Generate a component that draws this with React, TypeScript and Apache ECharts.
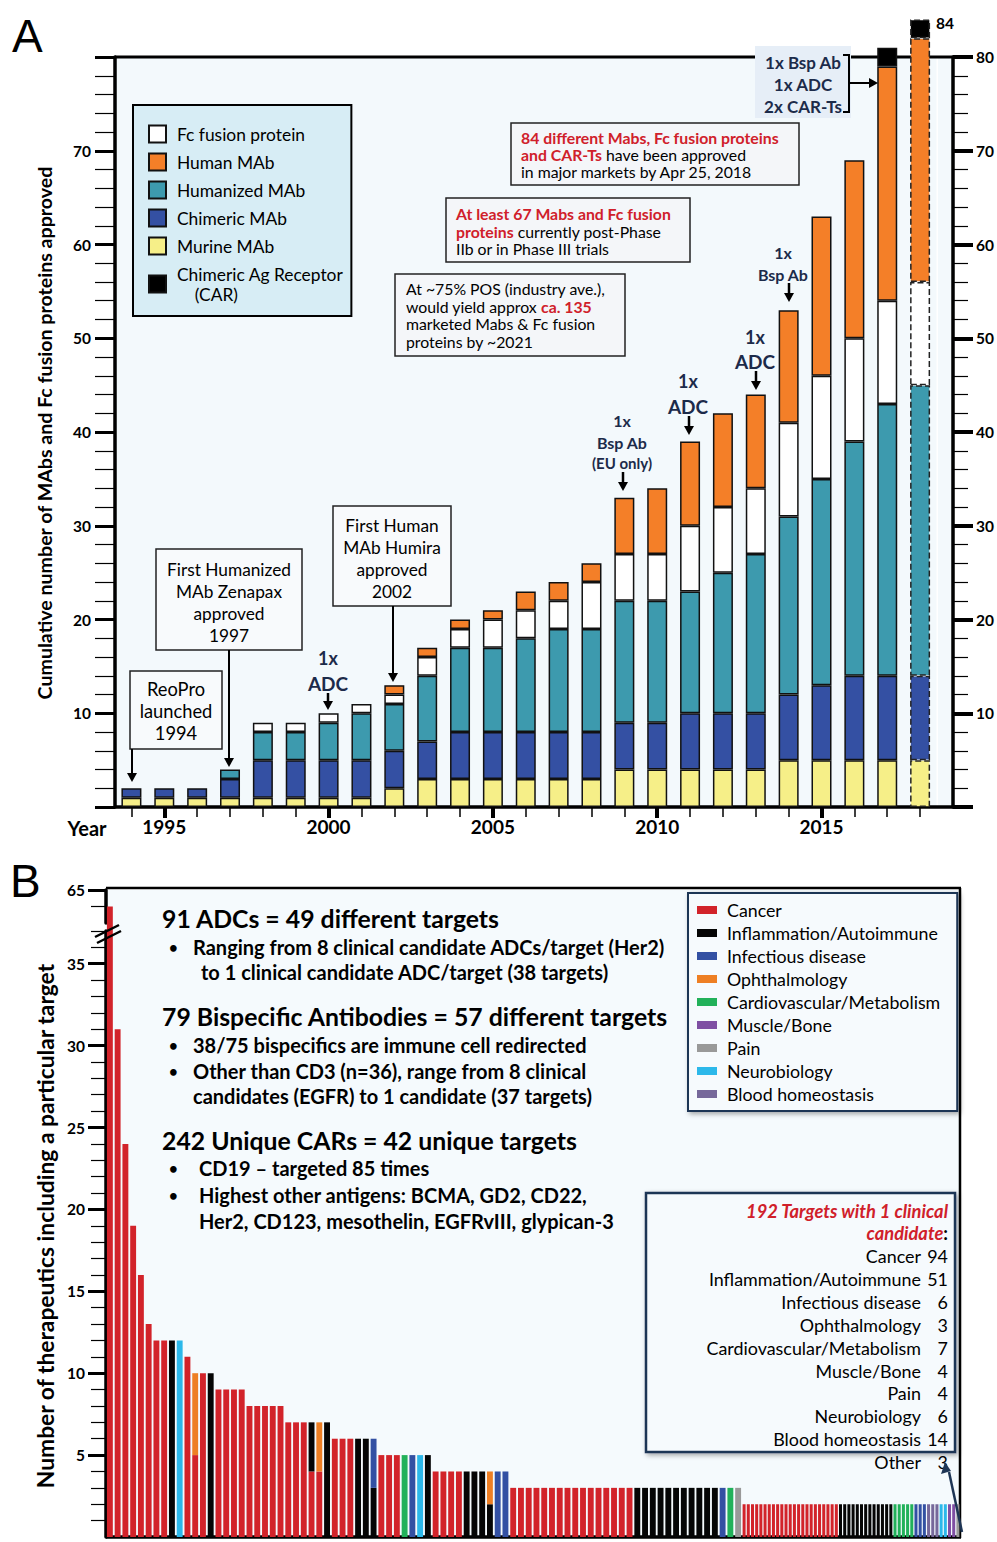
import React, { useEffect, useRef } from 'react';
import * as echarts from 'echarts';

const FONT = 'Lato, "Open Sans", "DejaVu Sans", sans-serif';
const NAVY = '#1c2b4a';
const RED = '#d0202a';

// ---------- Panel A data ----------
const years = ['1994','1995','1996','1997','1998','1999','2000','2001','2002','2003','2004','2005','2006','2007','2008','2009','2010','2011','2012','2013','2014','2015','2016','2017','2018'];
const murine    = [1,1,1,1,1,1,1,1,2,3,3,3,3,3,3,4,4,4,4,4,5,5,5,5,5];
const chimeric  = [1,1,1,2,4,4,4,4,4,4,5,5,5,5,5,5,5,6,6,6,7,8,9,9,9];
const humanized = [0,0,0,1,3,3,4,5,5,7,9,9,10,11,11,13,13,13,15,17,19,22,25,29,31];
const fcFusion  = [0,0,0,0,1,1,1,1,1,2,2,3,3,3,5,5,5,7,7,7,10,11,11,11,11];
const human     = [0,0,0,0,0,0,0,0,1,1,1,1,2,2,2,6,7,9,10,10,12,17,19,25,26];
const carT      = [0,0,0,0,0,0,0,0,0,0,0,0,0,0,0,0,0,0,0,0,0,0,0,2,2];
const projectedYear = '2018';
const leftTickLabelsA = [10,20,30,40,50,60,70];
const rightTickLabelsA = [10,20,30,40,50,60,70,80];

// ---------- Panel B data ----------
const bCats = ['Cancer','Inflammation/Autoimmune','Infectious disease','Ophthalmology','Cardiovascular/Metabolism','Muscle/Bone','Pain','Neurobiology','Blood homeostasis'];
const bCodes = ['C','I','B','O','V','M','P','N','H'];
const bColors = ['#d2232a','#050505','#3350a3','#ee7f24','#22b15a','#7f4fa3','#999999','#2cb8ea','#76689a'];
const mainHeights = [64,31,24,19,16,13,12,12,12,12,11,10,10,10,9,9,9,9,8,8,8,8,8,7,7,7,7,7,7,6,6,6,6,6,6,5,5,5,5,5,5,5,4,4,4,4,4,4,4,4,4,4,3,3,3,3,3,3,3,3,3,3,3,3,3,3,3,3,3,3,3,3,3,3,3,3,3,3,3,3,3,3];
const mainAreas = 'CCCCCCCCINCCCICCCCCCCCCCCCCCICCCIIICCCVBNICCCCIIIIBBCCCCCCCCCCCCCCCCIIIIIIIIIIIBVP'.split('');
// [bar index, top-segment area, top-segment size]
const mainSplits: [number, string, number][] = [[11,'O',5],[26,'I',3],[27,'O',3],[34,'B',3],[49,'O',2]];
const tailHeights = [2,2,2,2,2,2,2,2,2,2,2,2,2,2,2,2,2,2,2,2,2,2,2,2,2,2,2,2,2,2,2,2,2,2,2,2,2,2,2,2,2,2,2,2,2,2,2,2,2,2,2,2];
const tailAreas = 'CCCCCCCCCCCCCCCCCCCCCCCIIIIIIIIIIIIIVVVVVBBBHHHNNMMP'.split('');
const majorTicksB = [5,10,15,20,25,30,35,65];
const minorTicksB = [1,2,3,4,6,7,8,9,11,12,13,14,16,17,18,19,21,22,23,24,26,27,28,29,31,32,33,34,36,37,64];
const insetLabels = ['Cancer','Inflammation/Autoimmune','Infectious disease','Ophthalmology','Cardiovascular/Metabolism','Muscle/Bone','Pain','Neurobiology','Blood homeostasis','Other'];
const insetCounts = ['94','51','6','3','7','4','4','6','14','3'];

function T(x: number, y: number, text: string, o: any = {}) {
  const align = o.align || 'left';
  return {
    type: 'text', x, y, z: 100, rotation: o.rotation || 0,
    style: {
      text, fontFamily: o.family || FONT, fontSize: o.size || 16,
      fontWeight: o.bold ? 'bold' : 'normal', fontStyle: o.italic ? 'italic' : 'normal',
      fill: o.color || '#000', align, textAlign: align,
      verticalAlign: 'middle', textVerticalAlign: 'middle', rich: o.rich,
    },
  };
}
function box(x: number, y: number, w: number, h: number, o: any = {}) {
  return {
    type: 'rect', z: 90, shape: { x, y, width: w, height: h },
    style: {
      fill: o.fill || '#f8fafc', stroke: o.stroke === undefined ? '#222' : o.stroke, lineWidth: o.lw || 1.5,
      shadowBlur: o.shadow ? 5 : 0, shadowColor: 'rgba(0,0,0,0.35)', shadowOffsetX: o.shadow ? 2 : 0, shadowOffsetY: o.shadow ? 2 : 0,
    },
  };
}
function arrowDown(x: number, y1: number, y2: number, color = '#000', w = 2) {
  return [
    { type: 'line', z: 100, shape: { x1: x, y1, x2: x, y2: y2 - 6 }, style: { stroke: color, lineWidth: w } },
    { type: 'polygon', z: 100, shape: { points: [[x - 5, y2 - 9], [x + 5, y2 - 9], [x, y2]] }, style: { fill: color } },
  ];
}
function line(x1: number, y1: number, x2: number, y2: number, w = 2, color = '#000', z = 100) {
  return { type: 'line', z, shape: { x1, y1, x2, y2 }, style: { stroke: color, lineWidth: w } };
}

function buildOption() {
  // ---- Panel A series ----
  const aDefs = [
    { name: 'Murine MAb', data: murine, color: '#f6ef88' },
    { name: 'Chimeric MAb', data: chimeric, color: '#3450a3' },
    { name: 'Humanized MAb', data: humanized, color: '#3d9aae' },
    { name: 'Fc fusion protein', data: fcFusion, color: '#ffffff' },
    { name: 'Human MAb', data: human, color: '#f47f28' },
    { name: 'Chimeric Ag Receptor\n    (CAR)', data: carT, color: '#000000' },
  ];
  const aSeries = aDefs.map((d, si) => ({
    type: 'bar', name: d.name, xAxisIndex: 0, yAxisIndex: 0, stack: 'a', barWidth: 20, clip: false,
    itemStyle: { color: d.color, borderColor: '#111', borderWidth: 1.5 },
    data: d.data.map((v, i) => {
      const item: any = { value: v > 0 ? v : '-' };
      if (years[i] === projectedYear) item.itemStyle = { borderType: 'dashed', borderColor: '#222' };
      if (si === aDefs.length - 1 && years[i] === projectedYear) {
        const total = murine[i] + chimeric[i] + humanized[i] + fcFusion[i] + human[i] + carT[i];
        item.label = { show: true, position: 'right', distance: 6, offset: [0, -6], formatter: String(total), fontFamily: FONT, fontWeight: 'bold', fontSize: 15.5, color: '#000' };
      }
      return item;
    }),
  }));

  // ---- Panel B series ----
  const splitMap: Record<number, [string, number]> = {};
  mainSplits.forEach(([i, c, v]) => { splitMap[i] = [c, v]; });
  const bSeries: any[] = [];
  bCodes.forEach((code, k) => {
    bSeries.push({
      type: 'bar', name: bCats[k], xAxisIndex: 2, yAxisIndex: 2, stack: 'b1', barCategoryGap: '24%',
      itemStyle: { color: bColors[k] },
      data: mainHeights.map((h, i) => {
        const sp = splitMap[i];
        const bottom = sp ? h - sp[1] : h;
        let v = 0;
        if (mainAreas[i] === code) v += bottom;
        if (sp && sp[0] === code) v += sp[1];
        return v > 0 ? v : '-';
      }),
    });
  });
  bCodes.forEach((code, k) => {
    bSeries.push({
      type: 'bar', name: bCats[k], xAxisIndex: 3, yAxisIndex: 4, stack: 'b2', barCategoryGap: '28%',
      itemStyle: { color: bColors[k] },
      data: tailHeights.map((h, i) => (tailAreas[i] === code ? h : '-')),
    });
  });

  const bBreaks = [{ start: 37, end: 63, gap: 0.5 }];
  const bY = { type: 'value', min: 0, max: 65, breaks: bBreaks, breakArea: { show: false }, splitLine: { show: false } };

  const graphics: any[] = [];
  // panel A extra background strip and frame lines
  graphics.push({ type: 'rect', z: 0, shape: { x: 938, y: 57, width: 17, height: 750 }, style: { fill: '#f3f9fc' } });
  graphics.push(line(115, 57, 955, 57, 3, '#000', 1));
  graphics.push(line(115, 807, 955, 807, 3.5, '#000', 1));
  // panel B frame
  graphics.push(line(106, 888, 961, 888, 2.5, '#000', 1));
  graphics.push(line(960, 888, 960, 1538, 2.5, '#000', 1));
  graphics.push(line(106, 1537, 961, 1537, 3.5, '#000', 1));
  // break marks
  graphics.push(line(95, 937, 119, 925, 2.5));
  graphics.push(line(97, 943, 121, 931, 2.5));

  // panel letters and titles
  graphics.push(T(12, 36, 'A', { size: 46, family: '"Liberation Sans", Arial, sans-serif' }));
  graphics.push(T(10, 881, 'B', { size: 46, family: '"Liberation Sans", Arial, sans-serif' }));
  graphics.push(T(44, 433, 'Cumulative number of MAbs and Fc fusion proteins approved', { size: 19.6, bold: true, align: 'center', rotation: Math.PI / 2 }));
  graphics.push(T(45, 1226, 'Number of therapeutics including a particular target', { size: 22.8, bold: true, align: 'center', rotation: Math.PI / 2 }));
  graphics.push(T(87, 828, 'Year', { size: 20, bold: true, align: 'center' }));

  // Panel A milestone boxes
  graphics.push(box(130, 671, 92, 78));
  ['ReoPro', 'launched', '1994'].forEach((s, i) => graphics.push(T(176, 689 + i * 22, s, { size: 18.3, align: 'center' })));
  graphics.push(...arrowDown(132, 749, 782));
  graphics.push(box(156, 549, 146, 101));
  ['First Humanized', 'MAb Zenapax', 'approved', '1997'].forEach((s, i) => graphics.push(T(229, 569 + i * 22.3, s, { size: 17.3, align: 'center' })));
  graphics.push(...arrowDown(229, 650, 767));
  graphics.push(box(333, 506, 118, 100));
  ['First Human', 'MAb Humira', 'approved', '2002'].forEach((s, i) => graphics.push(T(392, 525 + i * 22.3, s, { size: 17.3, align: 'center' })));
  graphics.push(...arrowDown(393, 606, 682));

  // navy event labels
  const ev = (x: number, ys: number[], lines: string[], sizes: number[], ax: number, a1: number, a2: number) => {
    lines.forEach((s, i) => graphics.push(T(x, ys[i], s, { size: sizes[i], bold: true, color: NAVY, align: 'center' })));
    graphics.push(...arrowDown(ax, a1, a2, '#000', 2.5));
  };
  ev(328, [658, 683], ['1x', 'ADC'], [18, 19], 328, 693, 710);
  ev(622, [420, 442, 463], ['1x', 'Bsp Ab', '(EU only)'], [16, 16, 15], 623, 472, 491);
  ev(688, [381, 406], ['1x', 'ADC'], [18, 19], 689, 416, 435);
  ev(755, [337, 361], ['1x', 'ADC'], [18, 19], 756, 371, 390);
  ev(783, [252, 274], ['1x', 'Bsp Ab'], [16, 16], 789, 283, 302);

  // bracket note near 2017
  graphics.push(box(755, 46, 96, 72, { fill: '#e6eef7', stroke: null }));
  ['1x Bsp Ab', '1x ADC', '2x CAR-Ts'].forEach((s, i) => graphics.push(T(803, 62 + i * 22, s, { size: 17, bold: true, color: NAVY, align: 'center' })));
  graphics.push({ type: 'polyline', z: 100, shape: { points: [[843, 55], [849, 55], [849, 112], [843, 112]] }, style: { stroke: '#000', lineWidth: 2, fill: null } });
  graphics.push(line(849, 83, 870, 83, 2));
  graphics.push({ type: 'polygon', z: 100, shape: { points: [[869, 78], [869, 88], [878, 83]] }, style: { fill: '#000' } });

  const rich = {
    r: { fill: RED, fontWeight: 'bold', fontSize: 15.8, fontFamily: FONT },
    k: { fill: '#000', fontWeight: 'normal', fontSize: 15.8, fontFamily: FONT },
  };
  graphics.push(box(511, 123, 288, 62, { fill: '#f4f6f9' }));
  graphics.push(T(521, 137, '{r|84 different Mabs, Fc fusion proteins}', { rich }));
  graphics.push(T(521, 154, '{r|and CAR-Ts}{k| have been approved}', { rich }));
  graphics.push(T(521, 171, '{k|in major markets by Apr 25, 2018}', { rich }));
  graphics.push(box(446, 198, 244, 64, { fill: '#f4f6f9' }));
  graphics.push(T(456, 213, '{r|At least 67 Mabs and Fc fusion}', { rich }));
  graphics.push(T(456, 231, '{r|proteins}{k| currently post-Phase}', { rich }));
  graphics.push(T(456, 248, '{k|IIb or in Phase III trials}', { rich }));
  graphics.push(box(395, 274, 230, 82, { fill: '#f4f6f9' }));
  graphics.push(T(406, 288, '{k|At ~75% POS (industry ave.),}', { rich }));
  graphics.push(T(406, 306, '{k|would yield approx }{r|ca. 135}', { rich }));
  graphics.push(T(406, 323, '{k|marketed Mabs & Fc fusion}', { rich }));
  graphics.push(T(406, 341, '{k|proteins by ~2021}', { rich }));

  // Panel B text blocks
  const H = { size: 24.8, bold: true };
  const Bu = { size: 20, bold: true };
  const Dot = { size: 15, bold: true };
  graphics.push(T(162, 918, '91 ADCs = 49 different targets', H));
  graphics.push(T(169, 947, '•', Dot));
  graphics.push(T(193, 947, 'Ranging from 8 clinical candidate ADCs/target (Her2)', Bu));
  graphics.push(T(201, 972, 'to 1 clinical candidate ADC/target (38 targets)', Bu));
  graphics.push(T(162, 1016, '79 Bispecific Antibodies = 57 different targets', H));
  graphics.push(T(169, 1045, '•', Dot));
  graphics.push(T(193, 1045, '38/75 bispecifics are immune cell redirected', Bu));
  graphics.push(T(169, 1071, '•', Dot));
  graphics.push(T(193, 1071, 'Other than CD3 (n=36), range from 8 clinical', Bu));
  graphics.push(T(193, 1096, 'candidates (EGFR) to 1 candidate (37 targets)', Bu));
  graphics.push(T(162, 1140, '242 Unique CARs = 42 unique targets', H));
  graphics.push(T(169, 1168, '•', Dot));
  graphics.push(T(199, 1168, 'CD19 – targeted 85 times', Bu));
  graphics.push(T(169, 1195, '•', Dot));
  graphics.push(T(199, 1195, 'Highest other antigens: BCMA, GD2, CD22,', Bu));
  graphics.push(T(199, 1221, 'Her2, CD123, mesothelin, EGFRvIII, glypican-3', Bu));

  // Panel B inset
  graphics.push(box(646, 1193, 309, 259, { fill: '#f6fafd', stroke: '#1e3555', lw: 2.5, shadow: true }));
  graphics.push(T(948, 1211, '192 Targets with 1 clinical', { size: 18.3, bold: true, italic: true, color: RED, align: 'right' }));
  graphics.push(T(948, 1233, '{r|candidate}{k|:}', { align: 'right', rich: {
    r: { fill: RED, fontWeight: 'bold', fontStyle: 'italic', fontSize: 18.3, fontFamily: FONT },
    k: { fill: '#000', fontWeight: 'bold', fontSize: 18.3, fontFamily: FONT },
  } }));
  insetLabels.forEach((s, i) => {
    const y = 1256 + i * 22.9;
    graphics.push(T(921, y, s, { size: 17.9, align: 'right' }));
    graphics.push(T(948, y, insetCounts[i], { size: 17.9, align: 'right' }));
  });
  graphics.push(line(962, 1532, 949, 1472, 2.5, '#1e3555'));
  graphics.push({ type: 'polygon', z: 100, shape: { points: [[941, 1474], [951, 1471], [945, 1462]] }, style: { fill: '#1e3555' } });

  return {
    animation: false,
    backgroundColor: '#ffffff',
    textStyle: { fontFamily: FONT },
    grid: [
      { left: 115, top: 57, width: 823.5, height: 750, show: true, backgroundColor: '#f3f9fc', borderWidth: 0 },
      { left: 106, top: 890, width: 636, height: 647, show: true, backgroundColor: '#f5fafd', borderWidth: 0 },
      { left: 742, top: 890, width: 218, height: 647, show: true, backgroundColor: '#f5fafd', borderWidth: 0 },
    ],
    legend: [
      {
        data: ['Fc fusion protein', 'Human MAb', 'Humanized MAb', 'Chimeric MAb', 'Murine MAb', 'Chimeric Ag Receptor\n    (CAR)'],
        orient: 'vertical', left: 133, top: 105, backgroundColor: '#d7edf5', borderColor: '#000', borderWidth: 2,
        padding: [19, 8, 12, 15], itemWidth: 17, itemHeight: 17, itemGap: 8, icon: 'rect', selectedMode: false,
        textStyle: { fontFamily: FONT, fontSize: 17.4, color: '#000', padding: [0, 0, 0, 6], lineHeight: 20 },
      },
      {
        data: bCats, orient: 'vertical', left: 688, top: 893, backgroundColor: '#f6fafd', borderColor: '#1e3555', borderWidth: 2,
        shadowBlur: 5, shadowColor: 'rgba(0,0,0,0.35)', shadowOffsetX: 2, shadowOffsetY: 2,
        padding: [8, 17, 8, 9], itemWidth: 20, itemHeight: 8, itemGap: 5, icon: 'rect', selectedMode: false,
        textStyle: { fontFamily: FONT, fontSize: 17.8, color: '#000', lineHeight: 18, padding: [0, 0, 0, 5] },
      },
    ],
    xAxis: [
      {
        gridIndex: 0, type: 'category', data: years, position: 'bottom',
        axisLine: { show: false }, splitLine: { show: false },
        axisTick: { show: true, alignWithLabel: true, interval: 0, length: 10, lineStyle: { color: '#000', width: 1.5 } },
        axisLabel: { interval: (_i: number, v: string) => Number(v) % 5 === 0, fontFamily: FONT, fontWeight: 'bold', fontSize: 19, color: '#000', margin: 10 },
      },
      {
        gridIndex: 0, type: 'category', data: years, position: 'bottom',
        axisLine: { show: false }, splitLine: { show: false },
        axisTick: { show: true, alignWithLabel: true, interval: (_i: number, v: string) => Number(v) % 5 === 0, length: 11, lineStyle: { color: '#000', width: 4 } },
        axisLabel: { show: false },
      },
      {
        gridIndex: 1, type: 'category', data: mainHeights.map((_, i) => String(i + 1)),
        axisLine: { show: false }, axisTick: { show: false }, axisLabel: { show: false },
      },
      {
        gridIndex: 2, type: 'category', data: tailHeights.map((_, i) => String(i + 1)),
        axisLine: { show: false }, axisTick: { show: false }, axisLabel: { show: false },
      },
    ],
    yAxis: [
      {
        gridIndex: 0, type: 'value', min: 0, max: 80, interval: 10, position: 'left',
        axisLine: { show: true, lineStyle: { color: '#000', width: 3.5 } }, splitLine: { show: false },
        axisTick: { show: true, length: 20, lineStyle: { color: '#000', width: 3 } },
        minorTick: { show: true, splitNumber: 5, length: 20, lineStyle: { color: '#000', width: 1.2 } },
        axisLabel: { customValues: leftTickLabelsA, fontFamily: FONT, fontWeight: 'bold', fontSize: 15.5, color: '#000', margin: 24 },
      },
      {
        gridIndex: 0, type: 'value', min: 0, max: 80, interval: 10, position: 'right', offset: 16.5,
        axisLine: { show: true, lineStyle: { color: '#000', width: 3.5 } }, splitLine: { show: false },
        axisTick: { show: true, length: 20, lineStyle: { color: '#000', width: 4 } },
        minorTick: { show: true, splitNumber: 5, length: 15, lineStyle: { color: '#000', width: 1.2 } },
        axisLabel: { customValues: rightTickLabelsA, fontFamily: FONT, fontWeight: 'bold', fontSize: 15.5, color: '#000', margin: 23 },
      },
      {
        ...bY, gridIndex: 1, position: 'left',
        axisLine: { show: true, lineStyle: { color: '#000', width: 3.5 } },
        axisTick: { show: true, customValues: minorTicksB, length: 15, lineStyle: { color: '#000', width: 1.2 } },
        axisLabel: { show: false },
      },
      {
        ...bY, gridIndex: 1, position: 'left',
        axisLine: { show: false },
        axisTick: { show: true, customValues: majorTicksB, length: 18, lineStyle: { color: '#000', width: 3 } },
        axisLabel: { customValues: majorTicksB, fontFamily: FONT, fontWeight: 'bold', fontSize: 15.5, color: '#000', margin: 21 },
      },
      { ...bY, gridIndex: 2, show: false },
    ],
    series: [...aSeries, ...bSeries],
    graphic: { elements: graphics },
  };
}

export default function App() {
  const ref = useRef<HTMLDivElement>(null);
  useEffect(() => {
    const chart = echarts.init(ref.current!, undefined, { renderer: 'svg' });
    chart.setOption(buildOption() as any);
    return () => chart.dispose();
  }, []);
  return <div ref={ref} style={{ position: 'absolute', left: 0, top: 0, width: 997, height: 1542 }} />;
}
